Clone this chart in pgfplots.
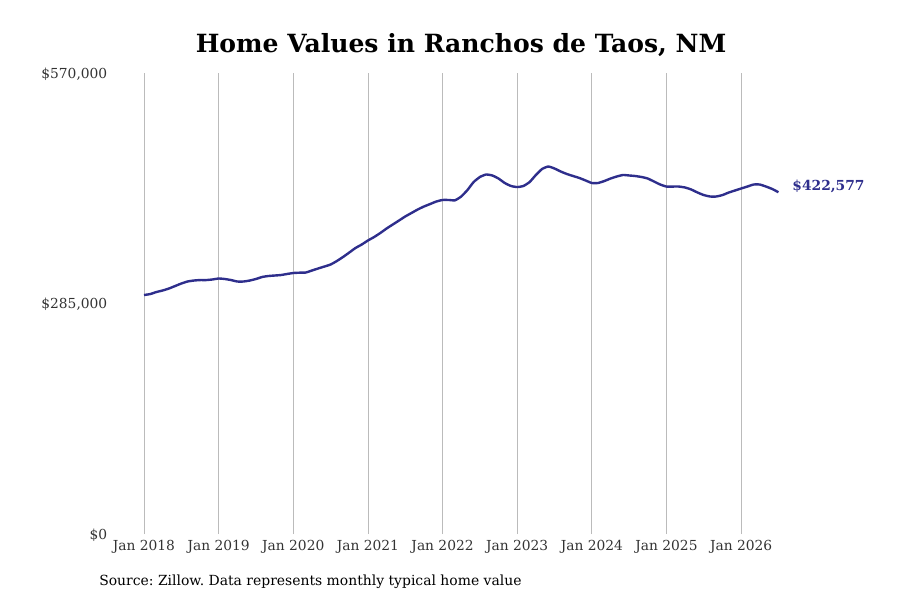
\documentclass[border=0pt]{standalone}
\usepackage{pgfplots}
\pgfplotsset{compat=1.18}
\usepackage{pgfplotstable}
\usepackage{fontspec}
\setmainfont{DejaVu Serif}
\frenchspacing
\definecolor{linec}{HTML}{2E2E8C}
\definecolor{tickc}{HTML}{333333}
\definecolor{gridc}{HTML}{BBBBBB}
\pgfplotstableread{
m v
0 295500
1 296700
2 299200
3 301100
4 303500
5 306600
6 309700
7 312200
8 313400
9 314000
10 314000
11 314700
12 315900
13 315300
14 314000
15 312200
16 312200
17 313400
18 315300
19 317800
20 319000
21 319600
22 320200
23 321500
24 322700
25 323100
26 323300
27 325800
28 328300
29 330700
30 333200
31 337500
32 342500
33 348000
34 353600
35 357900
36 362900
37 367200
38 372200
39 377700
40 382700
41 387600
42 392600
43 396900
44 401200
45 404900
46 408000
47 411100
48 413000
49 413000
50 412600
51 417300
52 425300
53 435200
54 441400
55 444500
56 443300
57 439500
58 434000
59 430300
60 429000
61 430300
62 435200
63 443900
64 451300
65 454400
66 451900
67 448200
68 445100
69 442600
70 440200
71 437100
72 434000
73 434000
74 436400
75 439500
76 442000
77 443900
78 443300
79 442600
80 441400
81 439500
82 435800
83 432100
84 429600
85 429600
86 429600
87 428400
88 425900
89 422200
90 419100
91 417300
92 417300
93 419100
94 422200
95 424700
96 427200
97 429600
98 432100
99 432100
100 429600
101 426600
102 422577
}\datatable
\begin{document}
\begin{tikzpicture}
\useasboundingbox (-93.98pt,-49.5pt) rectangle (581.0pt,400.5pt);
\begin{axis}[
  at={(0pt,0pt)}, anchor=south west,
  scale only axis,
  width=508.5pt, height=345.75pt,
  xmin=-3, xmax=106,
  ymin=0, ymax=570000,
  scaled ticks=false,
  /pgf/number format/assume math mode=true,
  axis line style={draw=none},
  tick style={draw=none},
  xtick={0,12,24,36,48,60,72,84,96},
  xticklabels={Jan 2018,Jan 2019,Jan 2020,Jan 2021,Jan 2022,Jan 2023,Jan 2024,Jan 2025,Jan 2026},
  ytick={0,285000,570000},
  yticklabels={{\$0},{\$285,000},{\$570,000}},
  xmajorgrids,
  major grid style={draw=gridc, line width=0.6pt},
  ticklabel style={font=\fontsize{10.35}{12}\selectfont, text=tickc},
  yticklabel style={xshift=-10pt, yshift=-0.8pt},
  xticklabel style={yshift=-1pt},
  clip=false,
]
\addplot[linec, line width=1.8pt, smooth, tension=0.3] table[x=m,y=v] {\datatable};
\node[anchor=west, text=linec, font=\bfseries\fontsize{10.35}{12}\selectfont, xshift=7pt, yshift=4.5pt] at (axis cs:102,422577) {\$422,577};
\end{axis}
\node[font=\bfseries\fontsize{18.8}{22}\selectfont] at (251.8pt,366.8pt) {Home Values in Ranchos de Taos, NM};
\node[anchor=west, font=\fontsize{10.45}{12}\selectfont, inner sep=0pt] at (-19.7pt,-36pt) {Source: Zillow. Data represents monthly typical home value};
\end{tikzpicture}
\end{document}
